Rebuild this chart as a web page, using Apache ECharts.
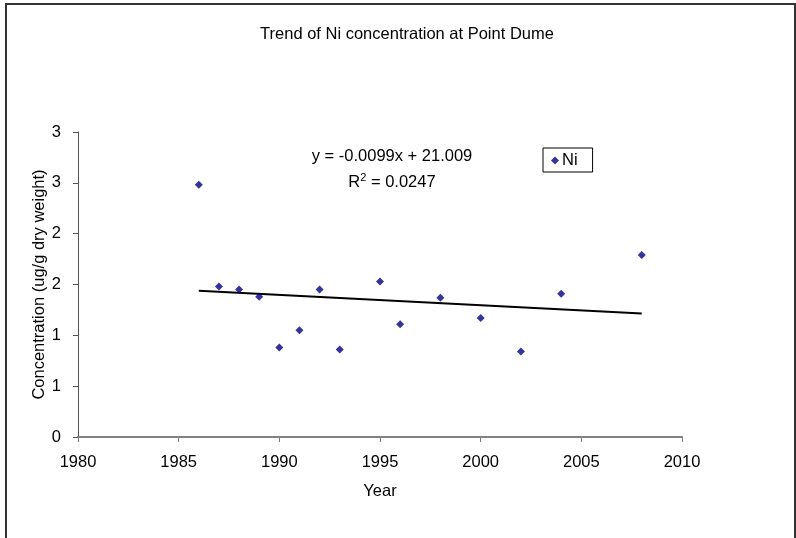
<!DOCTYPE html>
<html>
<head>
<meta charset="utf-8">
<script src="https://cdn.jsdelivr.net/npm/echarts@6/dist/echarts.min.js"></script>
<style>
  html, body { margin: 0; padding: 0; background: #fff; }
  #chart { width: 796px; height: 538px; }
</style>
</head>
<body>
<div id="chart"></div>
<script>
  // data
  const years = [1986, 1987, 1988, 1989, 1990, 1991, 1992, 1993, 1995, 1996, 1998, 2000, 2002, 2004, 2008]
  const niValues = [2.48, 1.48, 1.45, 1.38, 0.88, 1.05, 1.45, 0.86, 1.53, 1.11, 1.37, 1.17, 0.84, 1.41, 1.79]
  const eqLabel = "y = -0.0099x + 21.009"
  const r2Value = "0.0247"

  // linear trend (least squares) over the points
  const n = years.length
  const mx = years.reduce((a, b) => a + b, 0) / n
  const my = niValues.reduce((a, b) => a + b, 0) / n
  let sxy = 0, sxx = 0
  years.forEach((x, i) => {
    sxy += (x - mx) * (niValues[i] - my)
    sxx += (x - mx) * (x - mx)
  })
  const slope = sxy / sxx
  const icpt = my - slope * mx
  const xFirst = years[0], xLast = years[n - 1]
  const trend = [[xFirst, icpt + slope * xFirst], [xLast, icpt + slope * xLast]]

  const font = "Liberation Sans, Arial, sans-serif"
  const fs = 16.5
  const chart = echarts.init(document.getElementById("chart"))
  const option = {
    backgroundColor: "#fff",
    animation: false,
    textStyle: { fontFamily: font, color: "#000" },
    title: {
      text: "Trend of Ni concentration at Point Dume",
      left: 402,
      top: 21,
      textAlign: "center",
      textStyle: { fontSize: fs, fontWeight: "normal", color: "#000", fontFamily: font },
    },
    grid: { left: 78, right: 114, top: 132, bottom: 101 },
    legend: {
      data: [{ name: "Ni", icon: "diamond" }],
      left: 543,
      top: 148,
      itemWidth: 8,
      itemHeight: 8,
      itemGap: 4,
      padding: [4, 15, 3, 8],
      borderColor: "#000",
      borderWidth: 1,
      borderRadius: 0,
      textStyle: { fontSize: fs, color: "#000", fontFamily: font, padding: [0, 0, 0, -2] },
    },
    xAxis: {
      type: "value",
      min: 1980,
      max: 2010,
      interval: 5,
      name: "Year",
      nameLocation: "middle",
      nameGap: 46,
      nameMoveOverlap: false,
      nameTextStyle: { fontSize: fs, color: "#000" },
      splitLine: { show: false },
      axisLine: { lineStyle: { color: "#808080", width: 2 } },
      axisTick: { length: 5, lineStyle: { color: "#808080" } },
      axisLabel: {
        fontSize: fs,
        color: "#000",
        margin: 17,
        formatter: function (v) {
          return String(v)
        },
      },
    },
    yAxis: {
      type: "value",
      min: 0,
      max: 3,
      interval: 0.5,
      name: "Concentration (ug/g dry weight)",
      nameLocation: "middle",
      nameGap: 30,
      nameMoveOverlap: false,
      nameTextStyle: { fontSize: fs, color: "#000" },
      splitLine: { show: false },
      axisLine: { show: true, lineStyle: { color: "#555", width: 1 } },
      axisTick: { show: true, length: 5, lineStyle: { color: "#555" } },
      axisLabel: {
        fontSize: fs,
        color: "#000",
        margin: 17,
        formatter: function (v) {
          return String(Math.round(v))
        },
      },
    },
    graphic: [
      {
        type: "rect",
        shape: { x: 6, y: 4, width: 789, height: 540 },
        style: { fill: "none", stroke: "#333", lineWidth: 2 },
        silent: true,
      },
      {
        type: "text",
        x: 392,
        y: 156,
        style: { text: eqLabel, font: fs + "px " + font, fill: "#000", align: "center", verticalAlign: "middle" },
      },
      {
        type: "text",
        x: 392,
        y: 182,
        style: {
          text: "R{s|2} = " + r2Value,
          font: fs + "px " + font,
          fill: "#000",
          align: "center",
          verticalAlign: "middle",
          rich: { s: { fontSize: 11, verticalAlign: "top", padding: [0, 0, 9, 0] } },
        },
      },
    ],
    series: [
      {
        name: "Ni",
        type: "scatter",
        symbol: "diamond",
        symbolSize: 8,
        itemStyle: { color: "#000080" },
        data: years.map((x, i) => [x, niValues[i]]),
        z: 3,
      },
      {
        name: "trend",
        type: "line",
        data: trend,
        symbol: "none",
        lineStyle: { color: "#000", width: 2 },
        z: 2,
      },
    ],
  }
  chart.setOption(option)
</script>
</body>
</html>
